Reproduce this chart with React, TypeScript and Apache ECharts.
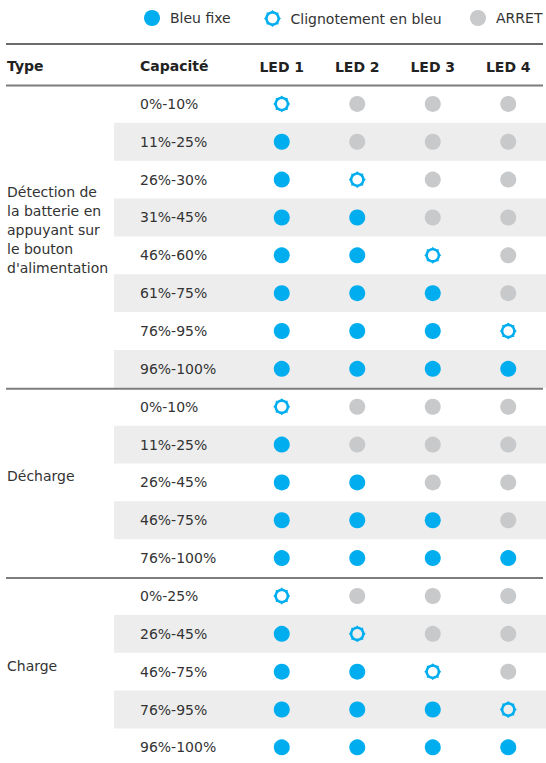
import React, { useEffect, useRef } from "react";
import * as echarts from "echarts";

const FONT = "DejaVu Sans";
const leds = ["LED 1", "LED 2", "LED 3", "LED 4"];
const headerType = "Type";
const headerCap = "Capacité";
const legendNames = ["Bleu fixe", "Clignotement en bleu", "ARRET"];
const typeLabels = [
  "Détection de\nla batterie en\nappuyant sur\nle bouton\nd'alimentation",
  "Décharge",
  "Charge",
];
// B = Bleu fixe, C = Clignotement en bleu, O = ARRET
const capacities1 = ["0%-10%", "11%-25%", "26%-30%", "31%-45%", "46%-60%", "61%-75%", "76%-95%", "96%-100%"];
const states1 = ["COOO", "BOOO", "BCOO", "BBOO", "BBCO", "BBBO", "BBBC", "BBBB"];
const capacities2 = ["0%-10%", "11%-25%", "26%-45%", "46%-75%", "76%-100%"];
const states2 = ["COOO", "BOOO", "BBOO", "BBBO", "BBBB"];
const capacities3 = ["0%-25%", "26%-45%", "46%-75%", "76%-95%", "96%-100%"];
const states3 = ["COOO", "BCOO", "BBCO", "BBBC", "BBBB"];

const BLUE = "#00AEEF";
const GREY = "#C8C9CB";
const TEXT = "#333333";

function gearPath(): string {
  const N = 64;
  const outer: string[] = [];
  for (let k = 0; k < N; k++) {
    const a = (k / N) * Math.PI * 2;
    const ph = k % 8;
    const r = ph === 0 ? 8.5 : ph === 1 || ph === 7 ? 7.7 : 7.3;
    outer.push(`${(9 + r * Math.cos(a)).toFixed(3)} ${(9 + r * Math.sin(a)).toFixed(3)}`);
  }
  const inner: string[] = [];
  for (let k = N; k > 0; k--) {
    const a = (k / N) * Math.PI * 2;
    const r = 4.8;
    inner.push(`${(9 + r * Math.cos(a)).toFixed(3)} ${(9 + r * Math.sin(a)).toFixed(3)}`);
  }
  return "path://M" + outer.join(" L") + " Z M" + inner.join(" L") + " Z";
}

export default function App() {
  const ref = useRef<HTMLDivElement>(null);
  useEffect(() => {
    document.body.style.margin = "0";
    if (!ref.current) return;
    const chart = echarts.init(ref.current, null, { renderer: "svg" });

    const sections = [
      { label: typeLabels[0], caps: capacities1, states: states1 },
      { label: typeLabels[1], caps: capacities2, states: states2 },
      { label: typeLabels[2], caps: capacities3, states: states3 },
    ];
    const rows: { cap: string; state: string; shaded: boolean }[] = [];
    const sectionInfo: { start: number; end: number; label: string }[] = [];
    sections.forEach((s) => {
      const start = rows.length;
      s.caps.forEach((c, i) => rows.push({ cap: c, state: s.states[i], shaded: i % 2 === 1 }));
      sectionInfo.push({ start, end: rows.length - 1, label: s.label });
    });
    const nRows = rows.length;

    const fixed: number[][] = [];
    const blink: number[][] = [];
    const off: number[][] = [];
    rows.forEach((r, ri) => {
      r.state.split("").forEach((ch, li) => {
        if (ch === "B") fixed.push([li, ri]);
        else if (ch === "C") blink.push([li, ri]);
        else off.push([li, ri]);
      });
    });

    const gear = gearPath();
    const rowH = 37.85;
    const gridTop = 85;
    const gridH = 763 - gridTop;
    const yMax = -0.5 + gridH / rowH;

    const option: any = {
      animation: false,
      textStyle: { fontFamily: FONT },
      legend: [
        { data: [legendNames[0]], left: 139, top: 5, itemWidth: 26, itemHeight: 16, textStyle: { fontSize: 14, color: TEXT, fontFamily: FONT } },
        { data: [legendNames[1]], left: 259, top: 5, itemWidth: 26, itemHeight: 17, textStyle: { fontSize: 14, color: TEXT, fontFamily: FONT } },
        { data: [legendNames[2]], left: 465, top: 5, itemWidth: 26, itemHeight: 16, textStyle: { fontSize: 14, color: TEXT, fontFamily: FONT } },
      ],
      grid: { left: 244, right: 0, top: gridTop, height: gridH },
      xAxis: {
        type: "category",
        data: leds,
        position: "top",
        axisLine: { show: false },
        axisTick: { show: false },
        splitLine: { show: false },
        axisLabel: { margin: 11, fontSize: 14, fontWeight: 600, color: "#222", fontFamily: FONT },
      },
      yAxis: { type: "value", min: -0.5, max: yMax, inverse: true, show: false },
      graphic: [
        { type: "line", shape: { x1: 6, y1: 44, x2: 543, y2: 44 }, style: { stroke: "#3a3a3a", lineWidth: 1.5 } },
        { type: "line", shape: { x1: 6, y1: 85.5, x2: 543, y2: 85.5 }, style: { stroke: "#7d7d7d", lineWidth: 2 } },
        { type: "text", x: 7, y: 66, style: { text: headerType, fill: "#222", font: `600 14px "${FONT}"`, verticalAlign: "middle" } },
        { type: "text", x: 140, y: 66, style: { text: headerCap, fill: "#222", font: `600 14px "${FONT}"`, verticalAlign: "middle" } },
      ],
      series: [
        {
          type: "custom",
          name: "rows",
          z: 1,
          silent: true,
          clip: false,
          data: rows.map((r, i) => ({ value: [0, i] })),
          renderItem: (params: any, api: any) => {
            const r = rows[params.dataIndex];
            const pt = api.coord([0, api.value(1)]);
            const h = api.size([0, 1])[1];
            const children: any[] = [];
            if (r.shaded) {
              children.push({ type: "rect", shape: { x: 114, y: pt[1] - h / 2, width: 432, height: h }, style: { fill: "#EDEDED" } });
            }
            children.push({
              type: "text",
              x: 140,
              y: pt[1],
              style: { text: r.cap, fill: TEXT, font: `14px "${FONT}"`, verticalAlign: "middle", align: "left" },
            });
            return { type: "group", children };
          },
        },
        {
          type: "custom",
          name: "sections",
          z: 2,
          silent: true,
          clip: false,
          data: sectionInfo.map((s) => ({ value: [0, (s.start + s.end) / 2, s.end] })),
          renderItem: (params: any, api: any) => {
            const s = sectionInfo[params.dataIndex];
            const mid = api.coord([0, api.value(1)]);
            const children: any[] = [
              {
                type: "text",
                x: 7,
                y: mid[1] - 6,
                style: { text: s.label, fill: TEXT, font: `14px "${FONT}"`, verticalAlign: "middle", align: "left", lineHeight: 19 },
              },
            ];
            if (params.dataIndex < sectionInfo.length - 1) {
              const b = api.coord([0, api.value(2) + 0.5]);
              children.push({ type: "line", shape: { x1: 6, y1: b[1] + 1, x2: 543, y2: b[1] + 1 }, style: { stroke: "#7d7d7d", lineWidth: 2 } });
            }
            return { type: "group", children };
          },
        },
        {
          type: "scatter",
          name: legendNames[0],
          z: 3,
          symbol: "circle",
          symbolSize: 16,
          itemStyle: { color: BLUE, opacity: 1 },
          data: fixed,
        },
        {
          type: "scatter",
          name: legendNames[1],
          z: 3,
          symbol: gear,
          symbolKeepAspect: true,
          symbolSize: 17,
          itemStyle: { color: BLUE, opacity: 1 },
          data: blink,
        },
        {
          type: "scatter",
          name: legendNames[2],
          z: 3,
          symbol: "circle",
          symbolSize: 16,
          itemStyle: { color: GREY, opacity: 1 },
          data: off,
        },
      ],
    };
    chart.setOption(option);
    return () => chart.dispose();
  }, []);
  return <div ref={ref} style={{ width: 546, height: 763 }} />;
}
